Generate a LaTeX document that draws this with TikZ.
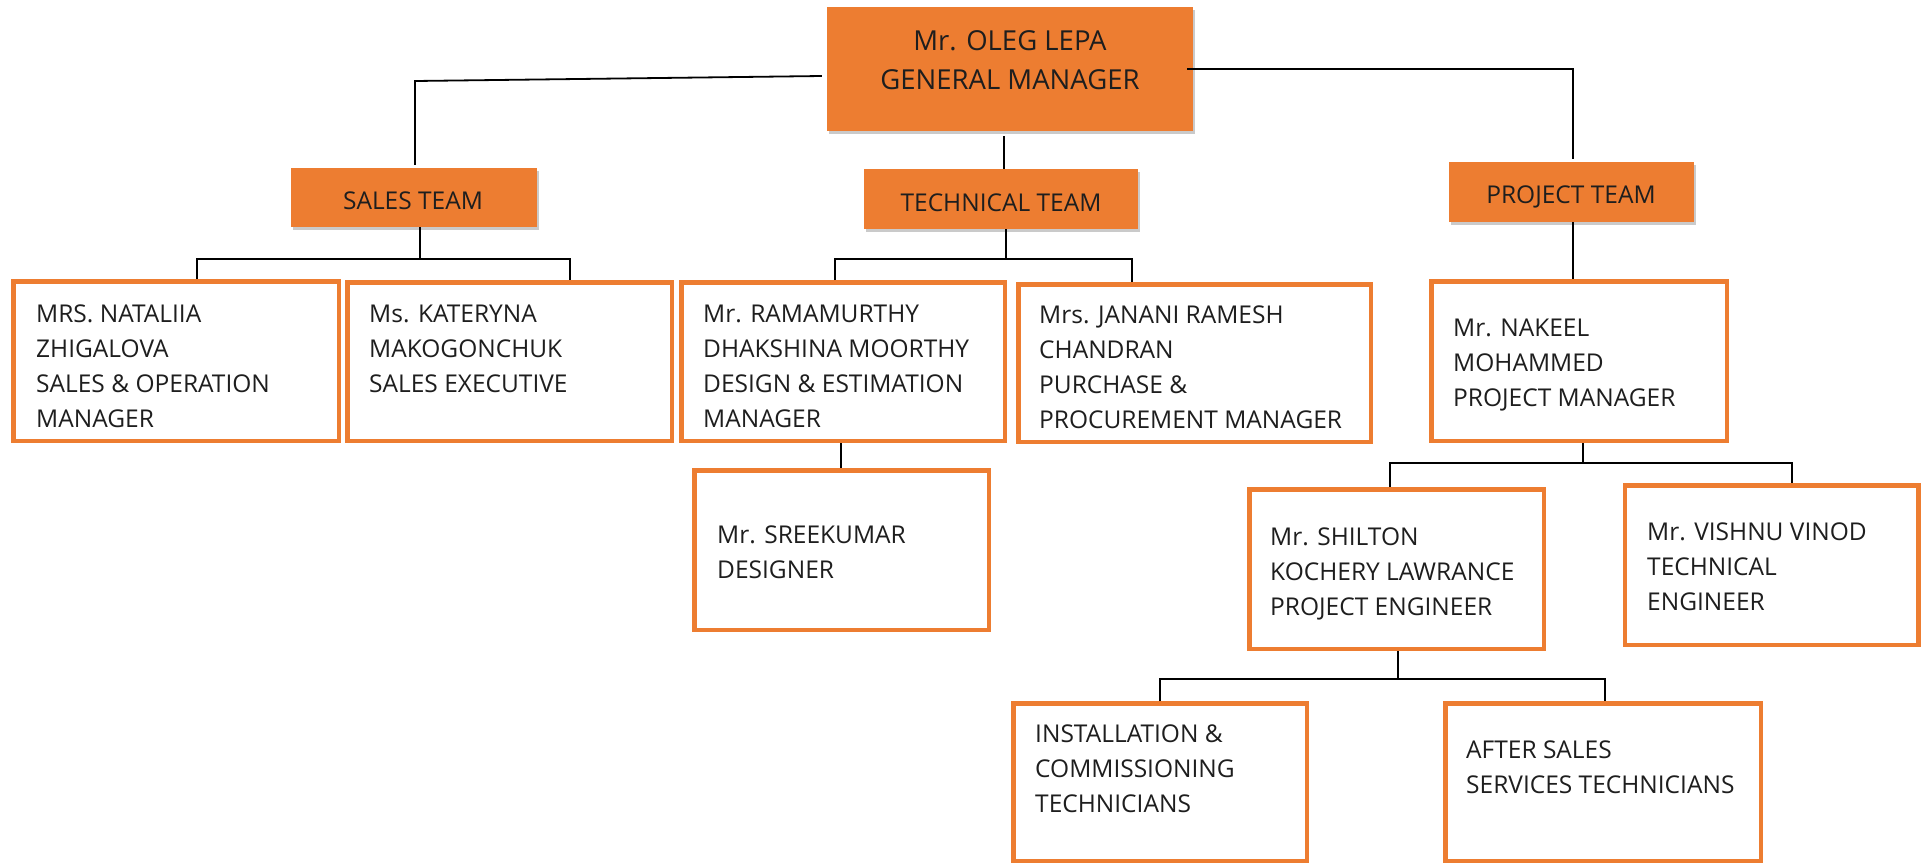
\documentclass[tikz,border=0pt]{standalone}
\usepackage{fontspec}
\setmainfont{Open Sans}
\usetikzlibrary{shadows,calc}
\definecolor{org}{HTML}{ED7D31}
\definecolor{ink}{HTML}{1E1E1E}
\begin{document}
\begin{tikzpicture}[x=1pt,y=-1pt,
  fbox/.style={rectangle, fill=org, draw=none, inner sep=0pt,
    drop shadow={shadow xshift=2pt, shadow yshift=-3pt, opacity=0.35, fill=black!60}},
  obox/.style={rectangle, draw=org, line width=4.5pt, fill=white, inner sep=0pt},
  txt/.style={inner sep=0pt, anchor=base west, text=ink, font=\fontsize{24.5}{35.3}\selectfont},
  ttl/.style={inner sep=0pt, anchor=base, text=ink, font=\fontsize{24.5}{35.3}\selectfont},
  big/.style={inner sep=0pt, anchor=base, text=ink, font=\fontsize{27.5}{39}\selectfont},
  conn/.style={draw=black, line width=1.8pt}]
\useasboundingbox (0,0) rectangle (1923,863);

% filled boxes
\node[fbox, minimum width=366pt, minimum height=124pt] (top) at (1010,69) {};
\node[big] (t0a) at (1010,50) {Mr. OLEG LEPA};
\node[big] (t0b) at (1010,89) {GENERAL MANAGER};

\node[fbox, minimum width=246pt, minimum height=59pt] (sales) at (414,197.5) {};
\node[ttl] (tsales) at (413,209) {SALES TEAM};
\node[fbox, minimum width=274pt, minimum height=60pt] (tech) at (1001,199) {};
\node[ttl] (ttech) at (1001,211) {TECHNICAL TEAM};
\node[fbox, minimum width=245pt, minimum height=60pt] (proj) at (1571.5,192) {};
\node[ttl] (tproj) at (1571,203) {PROJECT TEAM};

% outline boxes
\node[obox, minimum width=325.5pt, minimum height=159.5pt] (b1) at (176,361) {};
\node[txt] (t1) at (36,322) {\vtop{\hbox{MRS. NATALIIA}\hbox{ZHIGALOVA}\hbox{SALES \& OPERATION}\hbox{MANAGER}}};

\node[obox, minimum width=324.5pt, minimum height=158.5pt] (b2) at (509.5,361.5) {};
\node[txt] (t2) at (369,322) {\vtop{\hbox{Ms. KATERYNA}\hbox{MAKOGONCHUK}\hbox{SALES EXECUTIVE}}};

\node[obox, minimum width=323.5pt, minimum height=158.5pt] (b3) at (843,361.5) {};
\node[txt] (t3) at (703,322) {\vtop{\hbox{Mr. RAMAMURTHY}\hbox{DHAKSHINA MOORTHY}\hbox{DESIGN \& ESTIMATION}\hbox{MANAGER}}};

\node[obox, minimum width=352.5pt, minimum height=157.5pt] (b4) at (1194.5,363) {};
\node[txt] (t4) at (1039,323) {\vtop{\hbox{Mrs. JANANI RAMESH}\hbox{CHANDRAN}\hbox{PURCHASE \&}\hbox{PROCUREMENT MANAGER}}};

\node[obox, minimum width=294.5pt, minimum height=159.5pt] (b5) at (841.5,550) {};
\node[txt] (t5) at (717,543) {\vtop{\hbox{Mr. SREEKUMAR}\hbox{DESIGNER}}};

\node[obox, minimum width=295.5pt, minimum height=159.5pt] (b6) at (1579,361) {};
\node[txt] (t6) at (1453,336) {\vtop{\hbox{Mr. NAKEEL}\hbox{MOHAMMED}\hbox{PROJECT MANAGER}}};

\node[obox, minimum width=294.5pt, minimum height=159.5pt] (b7) at (1396.5,569) {};
\node[txt] (t7) at (1270,545) {\vtop{\hbox{Mr. SHILTON}\hbox{KOCHERY LAWRANCE}\hbox{PROJECT ENGINEER}}};

\node[obox, minimum width=293.5pt, minimum height=159.5pt] (b8) at (1771.5,565) {};
\node[txt] (t8) at (1647,540) {\vtop{\hbox{Mr. VISHNU VINOD}\hbox{TECHNICAL}\hbox{ENGINEER}}};

\node[obox, minimum width=293.5pt, minimum height=157.5pt] (b9) at (1160,782) {};
\node[txt] (t9) at (1035,742) {\vtop{\hbox{INSTALLATION \&}\hbox{COMMISSIONING}\hbox{TECHNICIANS}}};

\node[obox, minimum width=315.5pt, minimum height=157.5pt] (b10) at (1603,782) {};
\node[txt] (t10) at (1466,758) {\vtop{\hbox{AFTER SALES}\hbox{SERVICES TECHNICIANS}}};

% connectors
\coordinate (c1) at (415,81);
\draw[conn] ($(top.west)+(-5,7)$) -- (c1) -- ($(sales.north)+(1,-3)$);
\draw[conn] ($(top.south)+(-6,5)$) -- ($(tech.north)+(3,0)$);
\draw[conn] ($(top.east)+(-6,0)$) -| ($(proj.north)+(1.5,-3)$);

\draw[conn] ($(sales.south)+(6,0)$) -- ++(0,32);
\draw[conn] ($(b1.north)+(21,0)$) -- ++(0,-20) -| ($(b2.north)+(60.5,0)$);

\draw[conn] ($(tech.south)+(5,0)$) -- ++(0,30);
\draw[conn] ($(b3.north)+(-8,0)$) -- ++(0,-21) -| ($(b4.north)+(-62.5,0)$);
\draw[conn] ($(b3.south)+(-2,0)$) -- ($(b5.north)+(-0.5,0)$);

\draw[conn] ($(proj.south)+(1.5,0)$) -- ($(b6.north)+(-6,0)$);
\draw[conn] ($(b6.south)+(4,0)$) -- ++(0,20);
\draw[conn] ($(b7.north)+(-6.5,0)$) -- ++(0,-24) -| ($(b8.north)+(20.5,0)$);
\draw[conn] ($(b7.south)+(1.5,0)$) -- ++(0,28);
\draw[conn] (b9.north) -- ++(0,-22) -| ($(b10.north)+(2,0)$);
\end{tikzpicture}
\end{document}
